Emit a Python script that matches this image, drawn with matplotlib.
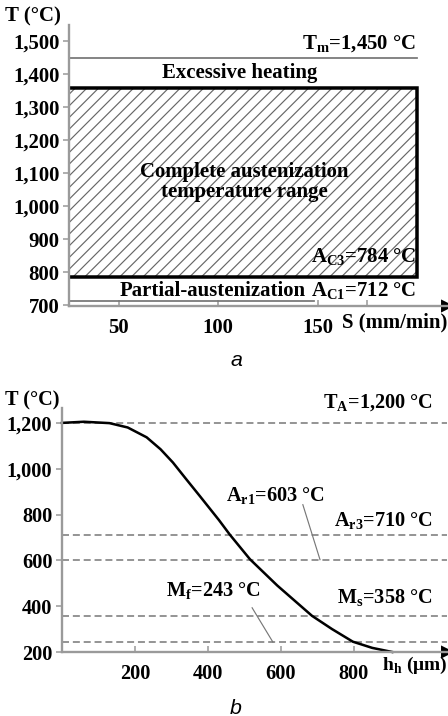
import matplotlib
matplotlib.use('Agg')
import matplotlib.pyplot as plt
from matplotlib.patches import Rectangle
from matplotlib.ticker import FuncFormatter

plt.rcParams['font.family'] = ['Liberation Serif', 'DejaVu Serif']
plt.rcParams['font.weight'] = 'bold'
plt.rcParams['hatch.linewidth'] = 0.6

# panel a: temperature ranges vs scanning speed
S_RANGE = (25, 200)
T_MELT = 1450
T_OVERHEAT = 1360
T_AC3 = 784
T_AC1 = 712
S_AC1_END = 148
a_xticks = [50, 100, 150, 175]
a_xticklabels = ['50', '100', '150', '']
a_yticks = [700, 800, 900, 1000, 1100, 1200, 1300, 1400, 1500]

# panel b: temperature vs hardened depth
h_um = [0, 60, 130, 180, 232, 270, 304, 340, 378, 430, 460, 515, 590, 685, 740, 797, 850, 905]
T_h = [1200, 1205, 1199, 1180, 1137, 1085, 1027, 955, 880, 776, 712, 605, 490, 358, 300, 245, 218, 200]
T_A = 1200
A_r3 = 710
A_r1 = 603
M_s = 358
M_f = 243
b_xticks = [200, 400, 600, 800]
b_yticks = [200, 400, 600, 800, 1000, 1200]

GRAY = '#9a9a9a'
comma = FuncFormatter(lambda v, p: f'{int(v):,}')

fig = plt.figure(figsize=(3.2, 716 / 140), dpi=140)


def style_axes(ax, fs):
    for s in ('top', 'right'):
        ax.spines[s].set_visible(False)
    for s in ('left', 'bottom'):
        ax.spines[s].set_color(GRAY)
        ax.spines[s].set_linewidth(1.2)
    ax.tick_params(axis='x', direction='in', length=3, color=GRAY, labelsize=fs, pad=6)
    ax.tick_params(axis='y', direction='out', length=3, color=GRAY, labelsize=fs, pad=2)
    ax.plot(1, 0, '>', color='k', ms=5, transform=ax.transAxes, clip_on=False)


# ---- panel a ----
ax1 = fig.add_axes([69 / 448, 1 - 306 / 716, 378 / 448, 281 / 716])
ax1.set_xlim(25, 215)
ax1.set_ylim(697, 1550)
fs_a = 10.7
style_axes(ax1, fs_a)
ax1.set_xticks(a_xticks)
ax1.set_xticklabels(a_xticklabels)
ax1.set_yticks(a_yticks)
ax1.yaxis.set_major_formatter(comma)

ax1.add_patch(Rectangle((S_RANGE[0], T_AC3), S_RANGE[1] - S_RANGE[0], T_OVERHEAT - T_AC3,
                        fill=False, hatch='////', edgecolor='#666666', linewidth=0))
ax1.plot([S_RANGE[0], S_RANGE[1], S_RANGE[1], S_RANGE[0]],
         [T_OVERHEAT, T_OVERHEAT, T_AC3, T_AC3], color='k', lw=1.8, solid_joinstyle='miter')
ax1.plot(S_RANGE, [T_MELT, T_MELT], color='#777777', lw=0.9)
ax1.plot([S_RANGE[0], S_AC1_END], [T_AC1, T_AC1], color='#777777', lw=0.9)

ax1.text(199.5, 1491, r'T$_\mathregular{m}$=1,450 °C', ha='right', va='center', fontsize=fs_a)
ax1.text(111, 1405, 'Excessive heating', ha='center', va='center', fontsize=fs_a)
ax1.text(113, 1073, 'Complete austenization\ntemperature range', ha='center', va='center',
         fontsize=fs_a, linespacing=1.0)
ax1.text(199.5, 846, r'A$_\mathregular{C3}$=784 °C', ha='right', va='center', fontsize=fs_a)
ax1.text(97, 742, 'Partial-austenization', ha='center', va='center', fontsize=fs_a)
ax1.text(199.5, 742, r'A$_\mathregular{C1}$=712 °C', ha='right', va='center', fontsize=fs_a)
ax1.text(162, -0.057, 'S (mm/min)', transform=ax1.get_xaxis_transform(),
         ha='left', va='center', fontsize=fs_a)
fig.text(5 / 448, 1 - 16 / 716, 'T (°C)', ha='left', va='center', fontsize=fs_a)
fig.text(236 / 448, 1 - 360 / 716, 'a', ha='center', va='center', fontsize=11,
         family='Liberation Sans', style='italic', weight='normal')

# ---- panel b ----
ax2 = fig.add_axes([62 / 448, 1 - 652 / 716, 385 / 448, 244 / 716])
ax2.set_xlim(0, 1055)
ax2.set_ylim(200, 1265)
style_axes(ax2, 10.4)
ax2.set_xticks(b_xticks)
ax2.set_yticks(b_yticks)
ax2.yaxis.set_major_formatter(comma)

for t in (T_A, A_r3, A_r1, M_s, M_f):
    ax2.axhline(t, color='#888888', lw=0.9, dashes=(4, 2.2))
ax2.plot(h_um, T_h, color='k', lw=1.3, clip_on=False)

fs_b = 10.4
ax2.text(1016, 1290, r'T$_\mathregular{A}$=1,200 °C', ha='right', va='center', fontsize=fs_b)
ax2.text(584, 878, r'A$_\mathregular{r1}$=603 °C', ha='center', va='center', fontsize=fs_b)
ax2.plot([660, 707], [843, A_r1], color='#777777', lw=0.6)
ax2.text(1016, 769, r'A$_\mathregular{r3}$=710 °C', ha='right', va='center', fontsize=fs_b)
ax2.text(414, 463, r'M$_\mathregular{f}$=243 °C', ha='center', va='center', fontsize=fs_b)
ax2.plot([521, 578], [393, M_f], color='#777777', lw=0.6)
ax2.text(1016, 436, r'M$_\mathregular{s}$=358 °C', ha='right', va='center', fontsize=fs_b)
ax2.text(878, -0.055, r'h$_\mathregular{h}$ (μm)', transform=ax2.get_xaxis_transform(),
         ha='left', va='center', fontsize=10)
fig.text(5 / 448, 1 - 400 / 716, 'T (°C)', ha='left', va='center', fontsize=fs_b)
fig.text(236 / 448, 1 - 708 / 716, 'b', ha='center', va='center', fontsize=11,
         family='Liberation Sans', style='italic', weight='normal')

fig.savefig('out.png', dpi=140)
